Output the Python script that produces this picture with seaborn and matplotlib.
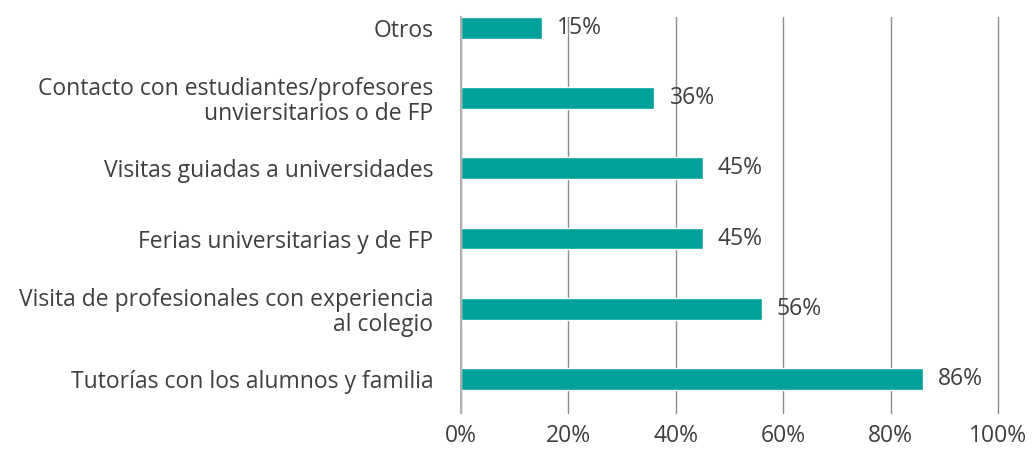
import matplotlib
matplotlib.use("Agg")
import matplotlib.pyplot as plt
import seaborn as sns
import pandas as pd

# datos del gráfico (de arriba a abajo)
categorias = [
    "Otros",
    "Contacto con estudiantes/profesores\nunviersitarios o de FP",
    "Visitas guiadas a universidades",
    "Ferias universitarias y de FP",
    "Visita de profesionales con experiencia\nal colegio",
    "Tutorías con los alumnos y familia",
]
porcentajes = [15, 36, 45, 45, 56, 86]
ticks_x = [0, 20, 40, 60, 80, 100]

df = pd.DataFrame({"categoria": categorias, "pct": porcentajes})

sns.set_style("white")
plt.rcParams["font.family"] = ["Open Sans", "DejaVu Sans"]
texto = "#3f3f3f"
fs = 16.5

fig = plt.figure(figsize=(10.34, 4.51), dpi=100)
ax = fig.add_axes([461 / 1034, 1 - 413 / 451, (998 - 461) / 1034, (413 - 17) / 451])

sns.barplot(data=df, x="pct", y="categoria", color="#00A19A", width=0.31,
            saturation=1, orient="h", ax=ax, zorder=3)

ax.set_xlim(0, 100)
ax.set_ylim(5.486, -0.157)
ax.set_xticks(ticks_x)
ax.set_xticklabels([f"{t}%" for t in ticks_x], fontsize=fs, color=texto)
ax.tick_params(axis="x", length=0, pad=8)
ax.tick_params(axis="y", length=0, pad=20)
for lab in ax.get_yticklabels():
    lab.set_fontsize(fs)
    lab.set_color(texto)
    lab.set_horizontalalignment("right")
    lab.set_multialignment("right")
    lab.set_linespacing(1.05)

ax.grid(axis="x", color="#8c8c8c", linewidth=1)
for gl in ax.get_xgridlines():
    gl.set_clip_on(False)
ax.set_axisbelow(True)
for s in ["top", "right", "bottom"]:
    ax.spines[s].set_visible(False)
ax.spines["left"].set_color("#b0b0b0")
ax.spines["left"].set_linewidth(1.5)
ax.spines["left"].set_zorder(4)

ax.set_xlabel("")
ax.set_ylabel("")

for i, v in enumerate(porcentajes):
    ax.annotate(f"{v}%", xy=(v, i), xytext=(11, 0), textcoords="offset points",
                va="center", ha="left", fontsize=fs, color=texto, zorder=5)

plt.savefig("out.png", dpi=100)
